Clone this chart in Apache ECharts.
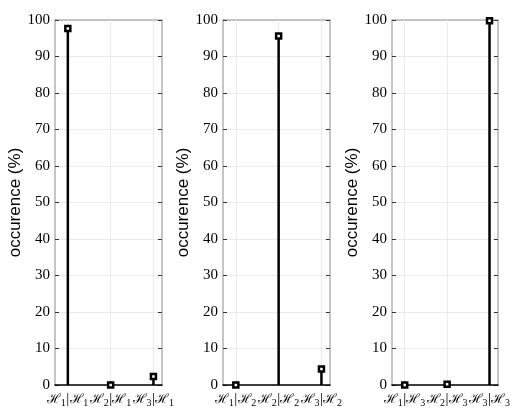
<!DOCTYPE html>
<html><head><meta charset="utf-8">
<script src="https://cdn.jsdelivr.net/npm/echarts@6/dist/echarts.min.js"></script>
<style>html,body{margin:0;padding:0;background:#fff}#c{width:517px;height:417px}</style>
</head><body><div id="c"></div>
<script>
// positions of the three hypotheses on each x axis
const categories = [1, 2, 3];
// tick labels: "given|condition" subscripts  -> H_a | H_b
const labels1 = ['1|1', '2|1', '3|1'];
const labels2 = ['1|2', '2|2', '3|2'];
const labels3 = ['1|3', '2|3', '3|3'];
// occurrence values (%)
const values1 = [97.7, 0.0, 2.3];
const values2 = [0.0, 95.6, 4.4];
const values3 = [0.0, 0.2, 99.8];

const panels = [
  {labels: labels1, values: values1, left: 55, width: 107},
  {labels: labels2, values: values2, left: 223, width: 107},
  {labels: labels3, values: values3, left: 392, width: 106}
];

const serif = 'Liberation Serif';
const boxColor = '#b3b3b3';
const tickColor = '#333333';
const gridColor = '#ebebeb';

function fmtLabel(lbl) {
  const p = lbl.split('|');
  return '{h|\u210B}{s|' + p[0] + '}{b||}{h|\u210B}{s|' + p[1] + '}';
}

const grid = [], xAxis = [], yAxis = [], series = [];
panels.forEach((p, i) => {
  grid.push({left: p.left, width: p.width, top: 20, height: 365, containLabel: false});
  xAxis.push({
    gridIndex: i, type: 'value', min: 0.7, max: 3.2, position: 'bottom', z: 5,
    axisLine: {show: true, onZero: false, lineStyle: {color: '#000', width: 1.5}},
    axisTick: {show: true, inside: true, length: 4, customValues: categories, lineStyle: {color: tickColor}},
    axisLabel: {
      customValues: categories, margin: 6, hideOverlap: false, showMinLabel: true, showMaxLabel: true,
      formatter: (v) => { const k = categories.indexOf(v); return k >= 0 ? fmtLabel(p.labels[k]) : ''; },
      rich: {
        h: {fontFamily: 'DejaVu Serif', fontSize: 13, color: '#000', width: 13.5, align: 'left'},
        b: {fontFamily: serif, fontSize: 15, color: '#000', width: 4, align: 'center'},
        s: {fontFamily: serif, fontSize: 10, color: '#000', width: 5, align: 'left', verticalAlign: 'bottom', padding: [7, 0, 0, 0]}
      }
    },
    splitLine: {show: true, lineStyle: {color: gridColor, width: 1}}
  });
  xAxis.push({
    gridIndex: i, type: 'value', min: 0.7, max: 3.2, position: 'top',
    axisLine: {show: true, onZero: false, lineStyle: {color: boxColor, width: 1.5}},
    axisTick: {show: true, inside: true, length: 4, customValues: categories, lineStyle: {color: tickColor}},
    axisLabel: {show: false}, splitLine: {show: false}
  });
  yAxis.push({
    gridIndex: i, type: 'value', min: 0, max: 100, interval: 10, position: 'left',
    name: 'occurence (%)', nameLocation: 'middle', nameRotate: 90, nameGap: 29,
    nameTextStyle: {fontFamily: 'Liberation Sans', fontSize: 17, color: '#000'},
    axisLine: {show: true, lineStyle: {color: boxColor, width: 1.5}},
    axisTick: {show: true, inside: true, length: 4, lineStyle: {color: tickColor}},
    axisLabel: {fontFamily: serif, fontSize: 15, color: '#000', margin: 5},
    splitLine: {show: true, lineStyle: {color: gridColor, width: 1}}
  });
  yAxis.push({
    gridIndex: i, type: 'value', min: 0, max: 100, interval: 10, position: 'right',
    axisLine: {show: true, lineStyle: {color: boxColor, width: 1.5}},
    axisTick: {show: true, inside: true, length: 4, lineStyle: {color: tickColor}},
    axisLabel: {show: false}, splitLine: {show: false}
  });
  series.push({
    type: 'custom', xAxisIndex: 2 * i, yAxisIndex: 2 * i, z: 10,
    data: categories.map((c, k) => [c, p.values[k]]),
    renderItem: (params, api) => {
      const x = api.value(0), y = api.value(1);
      const top = api.coord([x, y]);
      const base = api.coord([x, 0]);
      const s = 5;
      return {
        type: 'group',
        children: [
          {type: 'line', shape: {x1: base[0], y1: base[1], x2: top[0], y2: top[1]},
           style: {stroke: '#000', lineWidth: 2.5}},
          {type: 'rect', shape: {x: top[0] - s / 2, y: top[1] - s / 2, width: s, height: s},
           style: {fill: '#fff', stroke: '#000', lineWidth: 2.5}}
        ]
      };
    }
  });
});

const chart = echarts.init(document.getElementById('c'), null, {renderer: 'canvas'});
chart.setOption({animation: false, backgroundColor: '#fff', grid, xAxis, yAxis, series});
</script></body></html>
